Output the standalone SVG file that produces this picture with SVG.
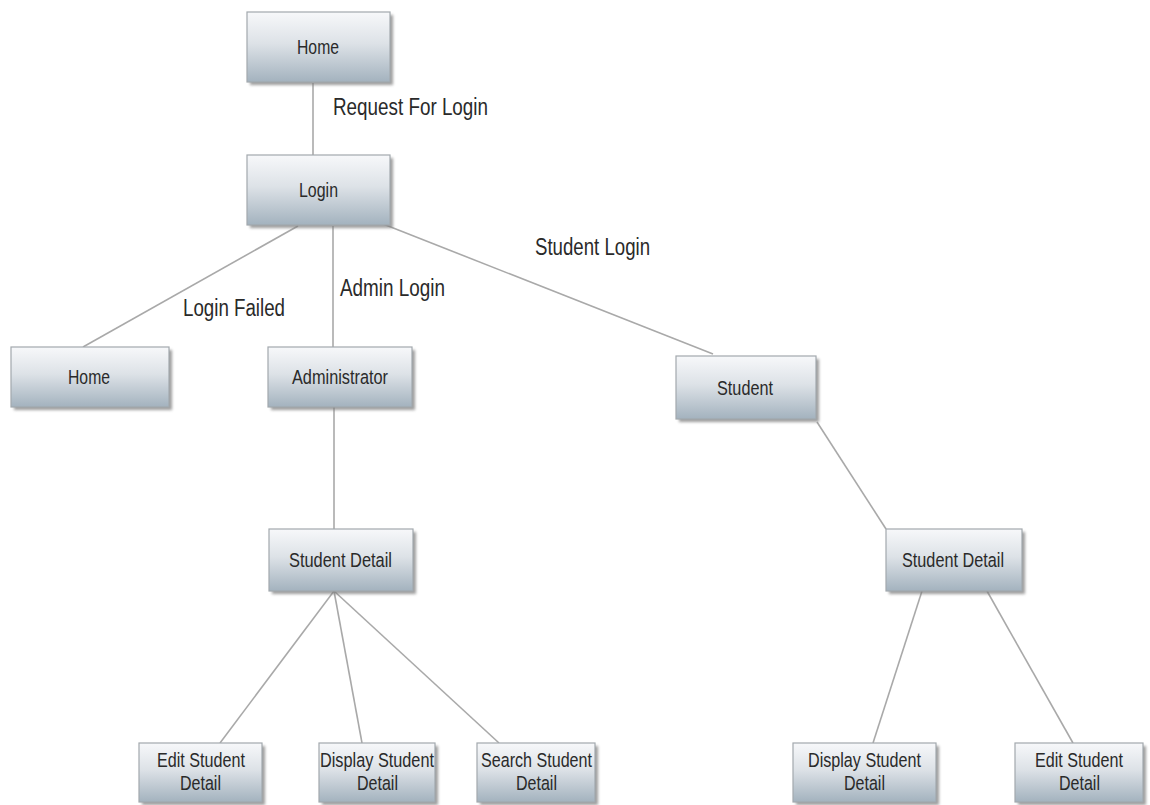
<svg xmlns="http://www.w3.org/2000/svg" width="1150" height="805" viewBox="0 0 1150 805">
<defs>
<linearGradient id="boxGrad" x1="0" y1="0" x2="0" y2="1">
<stop offset="0" stop-color="#f7f8fa"/>
<stop offset="0.45" stop-color="#dde2e7"/>
<stop offset="1" stop-color="#a3b2be"/>
</linearGradient>
<filter id="shadow" x="-10%" y="-10%" width="130%" height="140%">
<feGaussianBlur stdDeviation="1.5"/>
</filter>
<style>
.box{fill:url(#boxGrad);stroke:#a2a8ad;stroke-width:1.2}
.sh{fill:#7d7d7d;opacity:0.75;filter:url(#shadow)}
.nt{font-family:"Liberation Sans",Arial,sans-serif;font-size:20.5px;fill:#2a2a2a}
.el{font-family:"Liberation Sans",Arial,sans-serif;font-size:23px;fill:#2a2a2a}
.conn line{stroke:#a9a9a9;stroke-width:1.6;fill:none}
</style>
</defs>
<rect width="1150" height="805" fill="#ffffff"/>

<g id="connectors" class="conn">
<line x1="313" y1="83" x2="313" y2="155"/>
<line x1="298" y1="226" x2="83" y2="347"/>
<line x1="333" y1="226" x2="333" y2="347"/>
<line x1="373" y1="220" x2="713" y2="354"/>
<line x1="334" y1="407" x2="334" y2="529"/>
<line x1="817" y1="422" x2="886" y2="529"/>
<line x1="334" y1="591" x2="220" y2="743"/>
<line x1="334" y1="591" x2="362" y2="743"/>
<line x1="334" y1="591" x2="499" y2="743"/>
<line x1="922" y1="591" x2="873" y2="743"/>
<line x1="987" y1="591" x2="1073" y2="743"/>
</g>

<g id="edge-labels">
<text class="el" x="333" y="115" textLength="155" lengthAdjust="spacingAndGlyphs">Request For Login</text>
<text class="el" x="183" y="316" textLength="102" lengthAdjust="spacingAndGlyphs">Login Failed</text>
<text class="el" x="340" y="296" textLength="105" lengthAdjust="spacingAndGlyphs">Admin Login</text>
<text class="el" x="535" y="255" textLength="115" lengthAdjust="spacingAndGlyphs">Student Login</text>
</g>

<g id="node-home-top">
<rect class="sh" x="250" y="15" width="143" height="70"/>
<rect class="box" x="247" y="12" width="143" height="70"/>
<text class="nt" x="297" y="54" textLength="42" lengthAdjust="spacingAndGlyphs">Home</text>
</g>

<g id="node-login">
<rect class="sh" x="250" y="158" width="143" height="70"/>
<rect class="box" x="247" y="155" width="143" height="70"/>
<text class="nt" x="299" y="197" textLength="39" lengthAdjust="spacingAndGlyphs">Login</text>
</g>

<g id="node-home-left">
<rect class="sh" x="14" y="350" width="158" height="60"/>
<rect class="box" x="11" y="347" width="158" height="60"/>
<text class="nt" x="68" y="384" textLength="42" lengthAdjust="spacingAndGlyphs">Home</text>
</g>

<g id="node-administrator">
<rect class="sh" x="271" y="350" width="144" height="60"/>
<rect class="box" x="268" y="347" width="144" height="60"/>
<text class="nt" x="292" y="384" textLength="96" lengthAdjust="spacingAndGlyphs">Administrator</text>
</g>

<g id="node-student">
<rect class="sh" x="679" y="359" width="140" height="63"/>
<rect class="box" x="676" y="356" width="140" height="63"/>
<text class="nt" x="717" y="395" textLength="56" lengthAdjust="spacingAndGlyphs">Student</text>
</g>

<g id="node-student-detail-left">
<rect class="sh" x="272" y="532" width="144" height="62"/>
<rect class="box" x="269" y="529" width="144" height="62"/>
<text class="nt" x="289" y="567" textLength="103" lengthAdjust="spacingAndGlyphs">Student Detail</text>
</g>

<g id="node-student-detail-right">
<rect class="sh" x="889" y="532" width="136" height="62"/>
<rect class="box" x="886" y="529" width="136" height="62"/>
<text class="nt" x="902" y="567" textLength="102" lengthAdjust="spacingAndGlyphs">Student Detail</text>
</g>

<g id="node-edit-left">
<rect class="sh" x="142" y="746" width="123" height="59"/>
<rect class="box" x="139" y="743" width="123" height="59"/>
<text class="nt" x="157" y="767" textLength="88" lengthAdjust="spacingAndGlyphs">Edit Student</text>
<text class="nt" x="180" y="790" textLength="41" lengthAdjust="spacingAndGlyphs">Detail</text>
</g>

<g id="node-display-left">
<rect class="sh" x="322" y="746" width="116" height="59"/>
<rect class="box" x="319" y="743" width="116" height="59"/>
<text class="nt" x="320" y="767" textLength="114" lengthAdjust="spacingAndGlyphs">Display Student</text>
<text class="nt" x="357" y="790" textLength="41" lengthAdjust="spacingAndGlyphs">Detail</text>
</g>

<g id="node-search-left">
<rect class="sh" x="480" y="746" width="118" height="59"/>
<rect class="box" x="477" y="743" width="118" height="59"/>
<text class="nt" x="481" y="767" textLength="111" lengthAdjust="spacingAndGlyphs">Search Student</text>
<text class="nt" x="516" y="790" textLength="41" lengthAdjust="spacingAndGlyphs">Detail</text>
</g>

<g id="node-display-right">
<rect class="sh" x="796" y="746" width="143" height="59"/>
<rect class="box" x="793" y="743" width="143" height="59"/>
<text class="nt" x="808" y="767" textLength="113" lengthAdjust="spacingAndGlyphs">Display Student</text>
<text class="nt" x="844" y="790" textLength="41" lengthAdjust="spacingAndGlyphs">Detail</text>
</g>

<g id="node-edit-right">
<rect class="sh" x="1018" y="746" width="128" height="59"/>
<rect class="box" x="1015" y="743" width="128" height="59"/>
<text class="nt" x="1035" y="767" textLength="88" lengthAdjust="spacingAndGlyphs">Edit Student</text>
<text class="nt" x="1059" y="790" textLength="41" lengthAdjust="spacingAndGlyphs">Detail</text>
</g>
</svg>
